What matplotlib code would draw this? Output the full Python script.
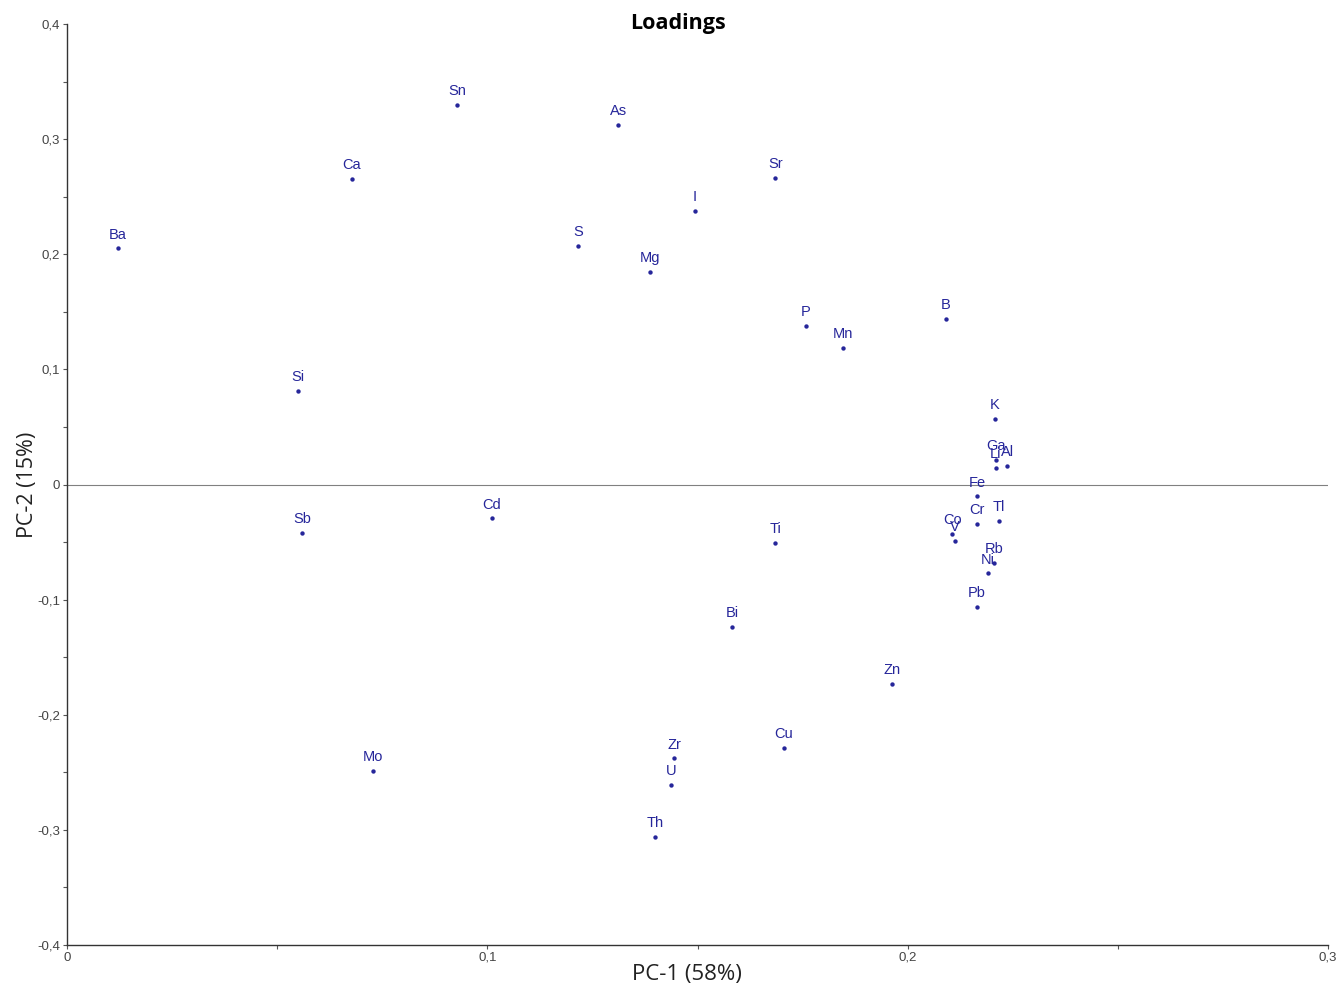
import numpy as np
import matplotlib.pyplot as plt
from matplotlib.ticker import MultipleLocator, FuncFormatter

# ------------------------------------------------------------
# Loadings (PC-1, PC-2)
# ------------------------------------------------------------
elements = ["Ba", "Ca", "Sn", "As", "Sr", "I", "S", "Mg", "P", "Mn", "B",
            "Si", "K", "Ga", "Li", "Al", "Fe", "Cr", "Tl", "Co", "V",
            "Rb", "Ni", "Pb", "Sb", "Cd", "Ti", "Bi", "Zn", "Cu", "Zr",
            "U", "Th", "Mo"]
pc1 = [0.0121, 0.0678, 0.0928, 0.1311, 0.1685, 0.1494, 0.1216, 0.1387,
       0.1758, 0.1846, 0.2091, 0.0550, 0.2208, 0.2210, 0.2210, 0.2237,
       0.2165, 0.2165, 0.2217, 0.2106, 0.2113, 0.2206, 0.2191, 0.2165,
       0.0559, 0.1011, 0.1685, 0.1582, 0.1963, 0.1706, 0.1444, 0.1437,
       0.1399, 0.0728]
pc2 = [0.205, 0.265, 0.330, 0.312, 0.266, 0.238, 0.207, 0.185,
       0.138, 0.119, 0.144, 0.081, 0.057, 0.021, 0.014, 0.0165,
       -0.0104, -0.0339, -0.0313, -0.0426, -0.0487, -0.0678, -0.0773, -0.106,
       -0.0417, -0.0295, -0.0504, -0.124, -0.173, -0.229, -0.238, -0.261,
       -0.306, -0.249]

navy = "#26269a"

fig = plt.figure(figsize=(13.42, 9.92), dpi=100)
ax = fig.add_axes([67 / 1342, 47 / 992, 1261 / 1342, 921 / 992])

ax.scatter(pc1, pc2, s=10, color=navy, zorder=3, linewidths=0)
for name, x, y in zip(elements, pc1, pc2):
    ax.annotate(name, (x, y), xytext=(0, 5), textcoords="offset points",
                ha="center", va="bottom", fontsize=10.5, color=navy,
                family="Liberation Sans")

ax.axhline(0, color="#808080", lw=0.8, zorder=1)

# axes cosmetics
ax.set_xlim(0, 0.3)
ax.set_ylim(-0.4, 0.4)
ax.spines["top"].set_visible(False)
ax.spines["right"].set_visible(False)
for s in ("left", "bottom"):
    ax.spines[s].set_color("#333333")
    ax.spines[s].set_linewidth(1.0)

ax.xaxis.set_major_locator(MultipleLocator(0.1))
ax.xaxis.set_minor_locator(MultipleLocator(0.05))
ax.yaxis.set_major_locator(MultipleLocator(0.1))
ax.yaxis.set_minor_locator(MultipleLocator(0.05))
fmt = FuncFormatter(lambda v, _: ("%.1f" % v).replace(".", ",") if abs(v) > 1e-9 else "0")
ax.xaxis.set_major_formatter(fmt)
ax.yaxis.set_major_formatter(fmt)
ax.tick_params(which="both", length=3, width=0.8, color="#555555",
               labelsize=9.5, labelcolor="#444444", pad=2)
for lab in ax.get_xticklabels() + ax.get_yticklabels():
    lab.set_family("Liberation Sans")

ax.set_xlabel("PC-1 (58%)", fontsize=16, family="Open Sans", color="#222222")
ax.set_ylabel("PC-2 (15%)", fontsize=15.5, family="Open Sans", color="#222222")
ax.xaxis.set_label_coords(0.492, -0.032)
ax.yaxis.set_label_coords(-0.031, 0.5)
ax.xaxis.label.set_va("center")
ax.yaxis.label.set_va("center")

fig.text(678 / 1342, 969 / 992, "Loadings", ha="center", va="center",
         fontsize=15.5, fontweight="bold", family="Open Sans")

fig.savefig("out.png", dpi=100)
